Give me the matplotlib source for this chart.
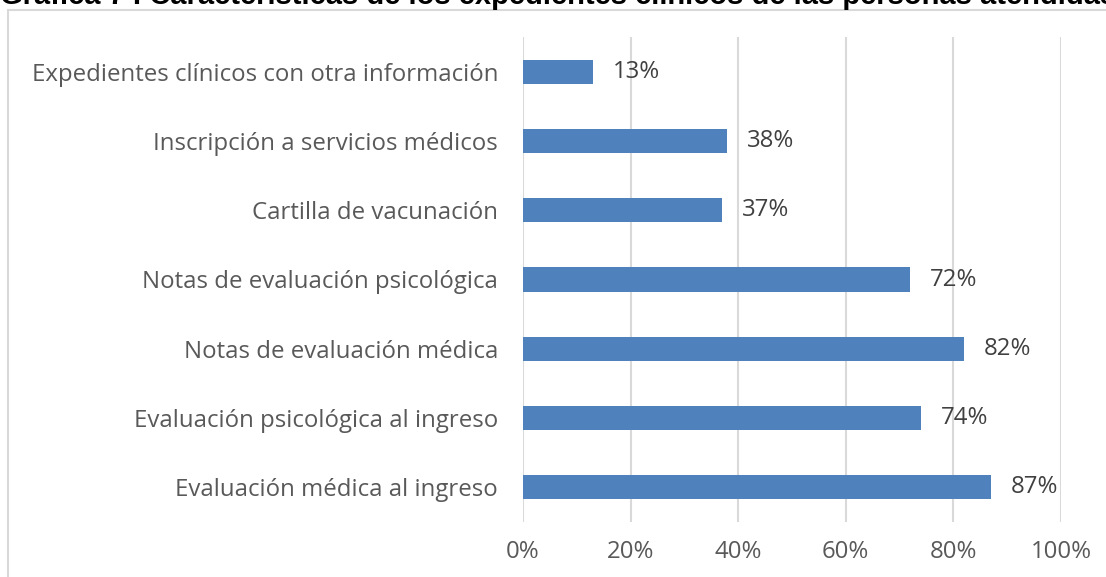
import matplotlib.pyplot as plt
from matplotlib.patches import Rectangle

# Data (bottom to top, as drawn)
categorias = [
    'Evaluación médica al ingreso',
    'Evaluación psicológica al ingreso',
    'Notas de evaluación médica',
    'Notas de evaluación psicológica',
    'Cartilla de vacunación',
    'Inscripción a servicios médicos',
    'Expedientes clínicos con otra información',
]
porcentajes = [87, 74, 82, 72, 37, 38, 13]
ticks_x = [0, 20, 40, 60, 80, 100]

titulo = 'Gráfica 7 . Características de los expedientes clínicos de las personas atendidas'

W, H = 1106, 577
fig = plt.figure(figsize=(W / 100, H / 100), dpi=100)
ax = fig.add_axes([523 / W, 1 - 521.6 / H, (1061 - 523) / W, (521.6 - 37.4) / H])

bar_color = '#4f81bd'
txt_color = '#595959'
font = 'Open Sans'
fs = 17.3

ax.barh(range(len(categorias)), porcentajes, height=0.35, color=bar_color, zorder=3)

for i, v in enumerate(porcentajes):
    ax.annotate(f'{v}%', xy=(v, i), xytext=(14, 0), textcoords='offset points',
                va='center', ha='left', fontsize=fs, color='#404040', family=font)

ax.set_xlim(0, 100)
ax.set_ylim(-0.5, len(categorias) - 0.5)
ax.set_xticks(ticks_x)
ax.set_xticklabels([f'{t}%' for t in ticks_x], fontsize=fs, color=txt_color, family=font)
ax.set_yticks(range(len(categorias)))
ax.set_yticklabels(categorias, fontsize=fs, color=txt_color, family=font)
ax.tick_params(axis='both', length=0)
ax.tick_params(axis='x', pad=13)
ax.tick_params(axis='y', pad=18)
ax.grid(axis='x', color='#d9d9d9', linewidth=1.5, zorder=0)
for s in ax.spines.values():
    s.set_visible(False)

# chart frame (cut off at right and bottom)
fig.patches.append(Rectangle((8 / W, -0.1), 1.2, 1 - 9.5 / H + 0.1, transform=fig.transFigure,
                             fill=False, edgecolor='#d9d9d9', linewidth=1.5))

# title, mostly cut off at the top
fig.text(0.0, 1 - 3.5 / H, titulo, fontsize=21, fontweight='bold', color='black',
         family='Liberation Sans', va='baseline', ha='left')

fig.savefig('out.png', dpi=100)
